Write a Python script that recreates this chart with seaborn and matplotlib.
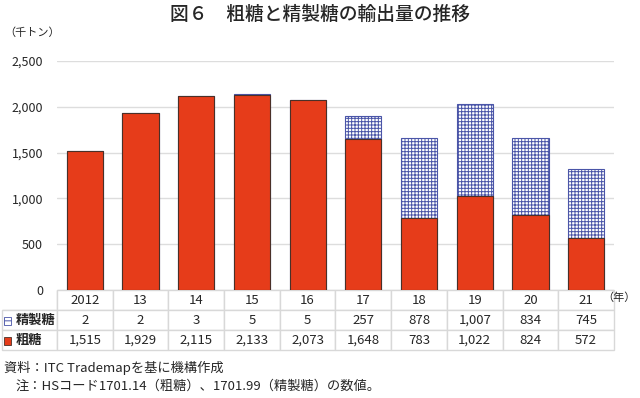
import matplotlib.pyplot as plt
import matplotlib.patches as mpatches
import seaborn as sns
import pandas as pd

years = ['2012', '13', '14', '15', '16', '17', '18', '19', '20', '21']
refined = [2, 2, 3, 5, 5, 257, 878, 1007, 834, 745]
raw = [1515, 1929, 2115, 2133, 2073, 1648, 783, 1022, 824, 572]
yticks = [0, 500, 1000, 1500, 2000, 2500]

sns.set_theme(style="white")
plt.rcParams['font.family'] = ['Noto Sans CJK JP', 'DejaVu Sans']
plt.rcParams['hatch.linewidth'] = 0.7

df = pd.DataFrame({'year': years, 'refined': refined, 'raw': raw})
df['total'] = df['raw'] + df['refined']

fig = plt.figure(figsize=(6.4, 3.98), dpi=100)
ax = fig.add_axes([57 / 640, 1 - 290 / 398, 557 / 640, 229 / 398])

# stacked bars: total (hatched refined) behind, raw in front
sns.barplot(data=df, x='year', y='total', color='white', width=0.65,
            edgecolor='#4a55a8', linewidth=0.8, hatch='+++++', ax=ax, zorder=2)
sns.barplot(data=df, x='year', y='raw', color='#e63c1a', saturation=1, width=0.65,
            edgecolor='#4a3028', linewidth=0.8, ax=ax, zorder=3)

ax.set_ylim(0, 2500)
ax.set_yticks(yticks)
ax.set_yticklabels([f'{v:,}' for v in yticks], fontsize=9)
ax.set_xticks([])
ax.set_xlabel('')
ax.set_ylabel('')
ax.yaxis.grid(True, color='#dddddd', linewidth=1)
ax.set_axisbelow(True)
for s in ax.spines.values():
    s.set_visible(False)
ax.tick_params(axis='y', length=0, pad=10)

# data table under the bars
cells = [[''] + years,
         ['精製糖'] + [f'{v:,}' for v in refined],
         ['粗糖'] + [f'{v:,}' for v in raw]]
tab = ax.table(cellText=cells, cellLoc='center',
               bbox=[-55 / 557, -60 / 229, 612 / 557, 60 / 229],
               colWidths=[55] + [55.7] * 10)
tab.auto_set_font_size(False)
tab.set_fontsize(9.5)
for (r, c), cell in tab.get_celld().items():
    cell.set_edgecolor('#d8d8d8')
    cell.set_linewidth(1)
    if c == 0:
        cell.get_text().set_ha('left')
        cell.PAD = 0.25
        cell.get_text().set_fontweight('bold')
    if r == 0 and c == 0:
        cell.visible_edges = 'BR'

# legend keys inside the table
fig.patches.append(mpatches.Rectangle((4 / 640, 1 - 325 / 398), 7 / 640, 8 / 398,
                                      transform=fig.transFigure, facecolor='white',
                                      edgecolor='#4a55a8', hatch='++', linewidth=0.6))
fig.patches.append(mpatches.Rectangle((4 / 640, 1 - 345 / 398), 7 / 640, 8 / 398,
                                      transform=fig.transFigure, facecolor='#e63c1a',
                                      edgecolor='#4a3028', linewidth=0.6))

fig.text(0.5, 1 - 14 / 398, '図６　粗糖と精製糖の輸出量の推移', ha='center', va='center',
         fontsize=13.5, fontweight='medium')
fig.text(4 / 640, 1 - 33 / 398, '（千トン）', ha='left', va='center', fontsize=8)
fig.text(602 / 640, 1 - 298 / 398, '（年）', ha='left', va='center', fontsize=8)
fig.text(4 / 640, 1 - 368 / 398, '資料：ITC Trademapを基に機構作成', ha='left', va='center', fontsize=9.5)
fig.text(16 / 640, 1 - 386 / 398, '注：HSコード1701.14（粗糖）、1701.99（精製糖）の数値。',
         ha='left', va='center', fontsize=9.5)

fig.savefig('out.png', dpi=100)
